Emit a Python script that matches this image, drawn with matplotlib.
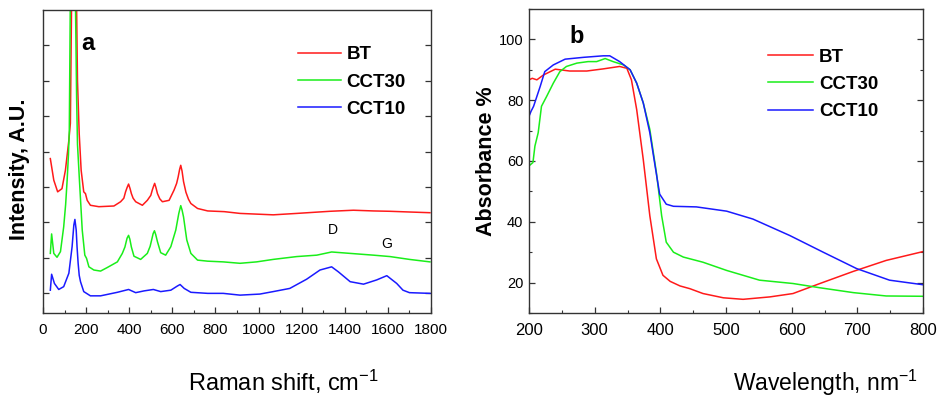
import matplotlib
matplotlib.use("Agg")
import matplotlib.pyplot as plt
from matplotlib.ticker import MultipleLocator, NullFormatter

plt.rcParams['font.family'] = ['Liberation Sans', 'DejaVu Sans']
plt.rcParams['mathtext.fontset'] = 'custom'
plt.rcParams['mathtext.rm'] = 'Liberation Sans'
plt.rcParams['mathtext.default'] = 'regular'

# ---- Raman spectra (stacked, arbitrary units) ----
raman_bt_x = [34, 50, 68, 88, 104, 120, 127, 133, 145, 155, 160, 168, 177, 189, 197, 205, 220, 259,
              329, 360, 375, 383, 390, 397, 404, 410, 418, 430, 461, 484, 500, 507, 513, 518, 524,
              531, 542, 554, 585, 608, 620, 627, 634, 639, 645, 652, 663, 675, 686, 717, 764, 841,
              914, 1068, 1177, 1331, 1440, 1533, 1610, 1700, 1795]
raman_bt_y = [3.80, 3.19, 2.86, 2.95, 3.47, 4.32, 4.8, 8.5, 11.0, 8.5, 6.0, 4.5, 3.47, 2.86, 2.81,
              2.62, 2.48, 2.44, 2.46, 2.58, 2.68, 2.86, 2.98, 3.08, 2.95, 2.81, 2.68, 2.58, 2.48,
              2.62, 2.76, 2.91, 3.02, 3.10, 2.98, 2.81, 2.66, 2.58, 2.62, 2.91, 3.10, 3.28, 3.50,
              3.61, 3.45, 3.15, 2.85, 2.65, 2.53, 2.39, 2.32, 2.30, 2.25, 2.21, 2.25, 2.31, 2.34,
              2.32, 2.31, 2.29, 2.27]

raman_cct30_x = [34, 40, 50, 65, 81, 96, 105, 112, 118, 122, 127, 140, 150, 156, 160, 169, 182, 194,
                 202, 213, 236, 267, 298, 345, 368, 380, 390, 397, 403, 410, 422, 453, 484, 497,
                 504, 511, 517, 523, 531, 546, 569, 593, 616, 630, 639, 645, 652, 660, 667, 686,
                 717, 764, 836, 914, 991, 1068, 1177, 1270, 1339, 1425, 1533, 1610, 1700, 1795]
raman_cct30_y = [1.12, 1.67, 1.12, 1.01, 1.17, 1.87, 2.5, 3.19, 3.9, 4.6, 8.5, 11.0, 8.5, 5.5, 4.2,
                 3.19, 1.78, 1.07, 0.98, 0.74, 0.65, 0.62, 0.72, 0.88, 1.12, 1.30, 1.55, 1.63,
                 1.52, 1.30, 1.04, 0.95, 1.12, 1.32, 1.50, 1.68, 1.76, 1.65, 1.45, 1.14, 1.07,
                 1.31, 1.78, 2.25, 2.47, 2.35, 2.15, 1.80, 1.50, 1.12, 0.93, 0.90, 0.88, 0.84,
                 0.88, 0.95, 1.03, 1.07, 1.16, 1.12, 1.07, 1.03, 0.95, 0.88]

raman_cct10_x = [34, 40, 53, 73, 96, 120, 135, 143, 148, 154, 158, 163, 168, 174, 189, 220, 267,
                 345, 397, 430, 469, 512, 546, 593, 624, 636, 655, 686, 764, 836, 914, 1006, 1068,
                 1145, 1223, 1285, 1339, 1370, 1425, 1487, 1548, 1595, 1641, 1670, 1700, 1795]
raman_cct10_y = [0.08, 0.53, 0.27, 0.10, 0.18, 0.56, 1.31, 1.92, 2.08, 1.78, 1.30, 0.84, 0.50,
                 0.32, 0.04, -0.08, -0.08, 0.02, 0.10, 0.01, 0.06, 0.10, 0.04, 0.08, 0.20, 0.24,
                 0.13, 0.02, -0.01, -0.01, -0.06, -0.03, 0.04, 0.13, 0.39, 0.65, 0.74, 0.60, 0.32,
                 0.25, 0.37, 0.49, 0.27, 0.08, 0.01, -0.01]

# ---- UV-Vis absorbance ----
uv_bt_x = [200, 205, 212, 222, 240, 262, 288, 313, 338, 349, 356, 364, 374, 384, 394, 404, 415,
           430, 445, 465, 496, 526, 567, 602, 643, 694, 744, 800]
uv_bt_y = [86.7, 87.2, 86.7, 88.3, 90.2, 89.6, 89.6, 90.3, 91.1, 90.5, 86.7, 76.9, 60.5, 42.0,
           27.8, 22.4, 20.4, 18.9, 18.0, 16.4, 15.0, 14.5, 15.3, 16.4, 19.7, 23.7, 27.3, 30.2]

uv_cct30_x = [200, 206, 209, 214, 219, 227, 237, 247, 257, 273, 290, 303, 316, 328, 344, 354,
              364, 374, 384, 394, 402, 409, 420, 435, 465, 501, 551, 602, 643, 694, 744, 800]
uv_cct30_y = [58.4, 59.5, 64.9, 69.3, 78.0, 81.3, 85.6, 89.4, 91.1, 92.2, 92.7, 92.7, 93.7,
              92.7, 91.6, 90.0, 85.6, 79.1, 70.4, 56.2, 42.0, 33.3, 30.0, 28.4, 26.7, 24.0,
              20.8, 19.7, 18.3, 16.7, 15.6, 15.5]

uv_cct10_x = [200, 203, 207, 217, 224, 237, 255, 283, 313, 323, 338, 354, 364, 374, 384, 392,
              399, 409, 420, 455, 501, 541, 597, 648, 699, 749, 800]
uv_cct10_y = [74.7, 76.3, 78.0, 84.5, 89.4, 91.6, 93.5, 94.1, 94.6, 94.6, 92.7, 90.0, 85.6,
              79.1, 69.3, 58.4, 49.1, 45.8, 45.1, 44.9, 43.5, 40.9, 35.5, 30.0, 24.6, 20.8, 19.3]

labels = ['BT', 'CCT30', 'CCT10']
colors = ['#ff1a1a', '#1aee1a', '#1a1aff']

fig = plt.figure(figsize=(9.43, 3.99), dpi=100)
W, H = 943, 399


def px_axes(l, t, r, b):
    return fig.add_axes([l / W, 1 - b / H, (r - l) / W, (b - t) / H])


def style_axes(ax, xfs):
    for s in ax.spines.values():
        s.set_color('#333333')
        s.set_linewidth(1.0)
    ax.tick_params(which='both', direction='in', left=True, right=True, top=False,
                   bottom=True, color='#333333')
    ax.tick_params(which='major', length=4, width=0.9)
    ax.tick_params(which='minor', length=2.5, width=0.8)
    ax.tick_params(axis='x', pad=7, labelsize=xfs)


# ---------------- panel a ----------------
ax1 = px_axes(43, 10, 431, 313)
series_a = [(raman_bt_x, raman_bt_y), (raman_cct30_x, raman_cct30_y), (raman_cct10_x, raman_cct10_y)]
for (x, y), lab, c in zip(series_a, labels, colors):
    ax1.plot(x, y, color=c, lw=1.1, label=lab)
ax1.set_xlim(0, 1800)
ax1.set_ylim(-0.565, 8)
ax1.xaxis.set_major_locator(MultipleLocator(200))
ax1.xaxis.set_minor_locator(MultipleLocator(100))
ax1.set_yticks(range(0, 8))
ax1.yaxis.set_major_formatter(NullFormatter())
style_axes(ax1, 11)
ax1.text(176, 6.86, 'a', fontsize=17, fontweight='bold', ha='left', va='baseline')
ax1.text(1323, 1.665, 'D', fontsize=10, ha='left', va='baseline')
ax1.text(1568, 1.26, 'G', fontsize=10, ha='left', va='baseline')
ax1.legend(loc='upper left', bbox_to_anchor=(0.657, 0.88), frameon=False,
           borderaxespad=0, borderpad=0, handlelength=2.3, handletextpad=0.3,
           labelspacing=0.54, prop={'weight': 'bold', 'size': 13.5})

# ---------------- panel b ----------------
ax2 = px_axes(529, 9, 923, 313)
series_b = [(uv_bt_x, uv_bt_y), (uv_cct30_x, uv_cct30_y), (uv_cct10_x, uv_cct10_y)]
for (x, y), lab, c in zip(series_b, labels, colors):
    ax2.plot(x, y, color=c, lw=1.1, label=lab)
ax2.set_xlim(200, 800)
ax2.set_ylim(10, 110)
ax2.xaxis.set_major_locator(MultipleLocator(100))
ax2.xaxis.set_minor_locator(MultipleLocator(50))
ax2.yaxis.set_major_locator(MultipleLocator(20))
ax2.yaxis.set_minor_locator(MultipleLocator(10))
ax2.set_yticks([20, 40, 60, 80, 100])
style_axes(ax2, 12)
ax2.tick_params(axis='y', pad=4, labelsize=10.5)
ax2.text(262, 98.7, 'b', fontsize=17, fontweight='bold', ha='left', va='baseline')
ax2.legend(loc='upper left', bbox_to_anchor=(0.607, 0.87), frameon=False,
           borderaxespad=0, borderpad=0, handlelength=2.4, handletextpad=0.3,
           labelspacing=0.54, prop={'weight': 'bold', 'size': 13.5})

# ---------------- axis titles ----------------
fig.text(20 / W, 1 - 169 / H, 'Intensity, A.U.', rotation=90, fontsize=15.5, fontweight='bold',
         ha='center', va='center')
fig.text(487 / W, 1 - 161 / H, 'Absorbance %', rotation=90, fontsize=15.5, fontweight='bold',
         ha='center', va='center')
fig.text(188 / W, 1 - 391 / H, 'Raman shift, cm$^{-1}$', fontsize=17, ha='left', va='baseline')
fig.text(733 / W, 1 - 391 / H, 'Wavelength, nm$^{-1}$', fontsize=16.5, ha='left', va='baseline')

fig.savefig('out.png', dpi=100)
